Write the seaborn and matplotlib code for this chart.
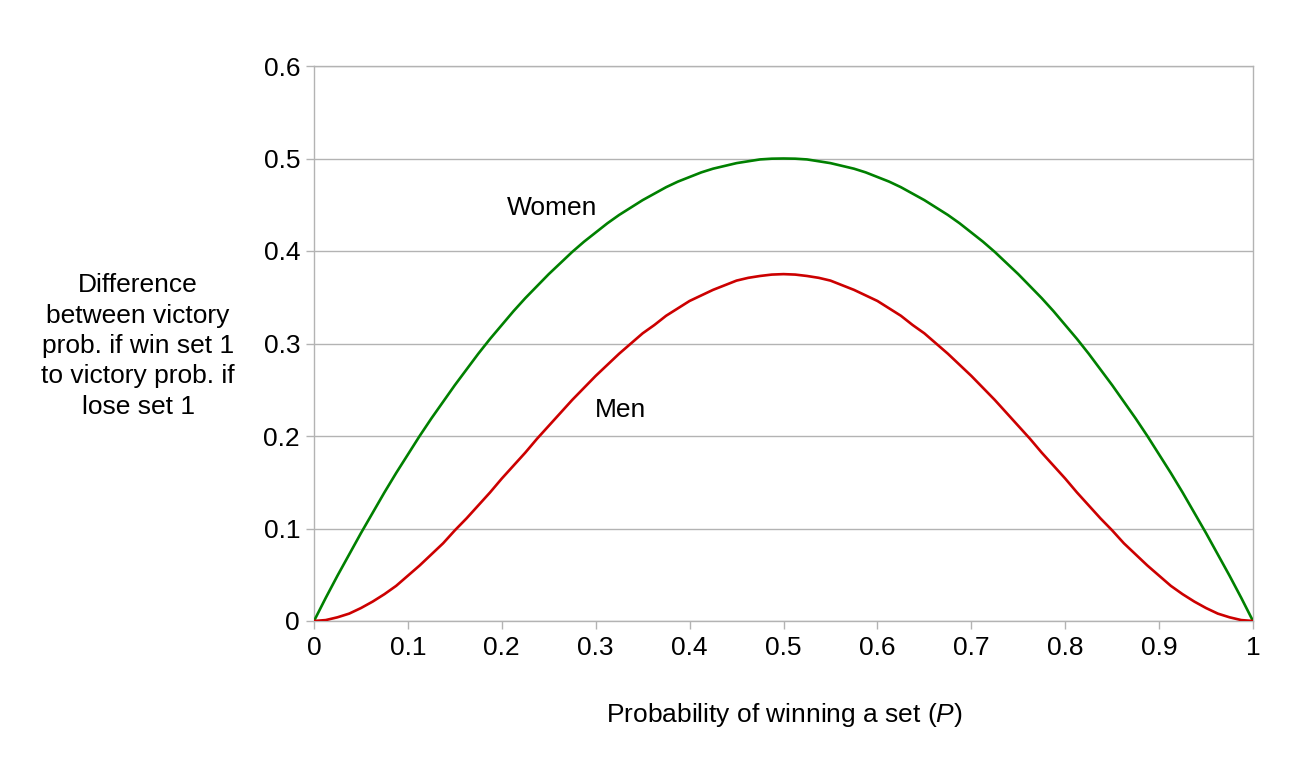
import numpy as np
import pandas as pd
import seaborn as sns
import matplotlib.pyplot as plt

# values, P in steps of 0.0125
p_values = [0, 0.0125, 0.025, 0.0375, 0.05, 0.0625, 0.075, 0.0875, 0.1, 0.1125,
            0.125, 0.1375, 0.15, 0.1625, 0.175, 0.1875, 0.2, 0.2125, 0.225, 0.2375,
            0.25, 0.2625, 0.275, 0.2875, 0.3, 0.3125, 0.325, 0.3375, 0.35, 0.3625,
            0.375, 0.3875, 0.4, 0.4125, 0.425, 0.4375, 0.45, 0.4625, 0.475, 0.4875,
            0.5,
            0.5125, 0.525, 0.5375, 0.55, 0.5625, 0.575, 0.5875, 0.6, 0.6125, 0.625,
            0.6375, 0.65, 0.6625, 0.675, 0.6875, 0.7, 0.7125, 0.725, 0.7375, 0.75,
            0.7625, 0.775, 0.7875, 0.8, 0.8125, 0.825, 0.8375, 0.85, 0.8625, 0.875,
            0.8875, 0.9, 0.9125, 0.925, 0.9375, 0.95, 0.9625, 0.975, 0.9875, 1]
women = [0, 0.025, 0.049, 0.072, 0.095, 0.117, 0.139, 0.160, 0.18, 0.200,
         0.219, 0.237, 0.255, 0.272, 0.289, 0.305, 0.32, 0.335, 0.349, 0.362,
         0.375, 0.387, 0.399, 0.410, 0.42, 0.430, 0.439, 0.447, 0.455, 0.462,
         0.469, 0.475, 0.48, 0.485, 0.489, 0.492, 0.495, 0.497, 0.499, 0.4998,
         0.5,
         0.4998, 0.499, 0.497, 0.495, 0.492, 0.489, 0.485, 0.48, 0.475, 0.469,
         0.462, 0.455, 0.447, 0.439, 0.430, 0.42, 0.410, 0.399, 0.387, 0.375,
         0.362, 0.349, 0.335, 0.32, 0.305, 0.289, 0.272, 0.255, 0.237, 0.219,
         0.200, 0.18, 0.160, 0.139, 0.117, 0.095, 0.072, 0.049, 0.025, 0]
men = [0, 0.001, 0.004, 0.008, 0.014, 0.021, 0.029, 0.038, 0.049, 0.060,
       0.072, 0.084, 0.098, 0.111, 0.125, 0.139, 0.154, 0.168, 0.182, 0.197,
       0.211, 0.225, 0.239, 0.252, 0.265, 0.277, 0.289, 0.300, 0.311, 0.320,
       0.330, 0.338, 0.346, 0.352, 0.358, 0.363, 0.368, 0.371, 0.373, 0.3745,
       0.375,
       0.3745, 0.373, 0.371, 0.368, 0.363, 0.358, 0.352, 0.346, 0.338, 0.330,
       0.320, 0.311, 0.300, 0.289, 0.277, 0.265, 0.252, 0.239, 0.225, 0.211,
       0.197, 0.182, 0.168, 0.154, 0.139, 0.125, 0.111, 0.098, 0.084, 0.072,
       0.060, 0.049, 0.038, 0.029, 0.021, 0.014, 0.008, 0.004, 0.001, 0]
x_ticks = [0, 0.1, 0.2, 0.3, 0.4, 0.5, 0.6, 0.7, 0.8, 0.9, 1]
x_tick_labels = ["0", "0.1", "0.2", "0.3", "0.4", "0.5", "0.6", "0.7", "0.8", "0.9", "1"]
y_ticks = [0, 0.1, 0.2, 0.3, 0.4, 0.5, 0.6]
y_tick_labels = ["0", "0.1", "0.2", "0.3", "0.4", "0.5", "0.6"]

df = pd.DataFrame({"P": p_values * 2,
                   "diff": women + men,
                   "group": ["Women"] * len(p_values) + ["Men"] * len(p_values)})

sns.set_style("white")
plt.rcParams["font.family"] = ["Liberation Sans", "DejaVu Sans"]
plt.rcParams["text.color"] = "black"
plt.rcParams["mathtext.fontset"] = "custom"
plt.rcParams["mathtext.rm"] = "Liberation Sans"
plt.rcParams["mathtext.it"] = "Liberation Sans:italic"

fig = plt.figure(figsize=(13.04, 7.75), dpi=100)
ax = fig.add_axes([314 / 1304, 1 - 621 / 775, 939 / 1304, 555 / 775])

sns.lineplot(data=df, x="P", y="diff", hue="group",
             palette={"Women": "#008000", "Men": "#cc0000"},
             linewidth=1.9, legend=False, ax=ax, zorder=3)
for ln in ax.lines:
    ln.set_solid_joinstyle("round")

ax.set_xlim(0, 1)
ax.set_ylim(0, 0.6)
ax.set_xticks(x_ticks)
ax.set_xticklabels(x_tick_labels)
ax.set_yticks(y_ticks)
ax.set_yticklabels(y_tick_labels)
ax.grid(axis="y", color="#b3b3b3", linewidth=1)
ax.grid(axis="x", visible=False)
for s in ax.spines.values():
    s.set_visible(True)
    s.set_color("#b3b3b3")
    s.set_linewidth(1)
ax.tick_params(axis="both", direction="out", length=6, width=1, color="#b3b3b3",
               labelsize=19, labelcolor="black", bottom=True, left=True)
ax.tick_params(axis="x", pad=5)
ax.tick_params(axis="y", pad=4)

ax.set_xlabel("")
ax.set_ylabel("")
ax.text(0.2535, 0.4465, "Women", fontsize=19, ha="center", va="center")
ax.text(0.326, 0.228, "Men", fontsize=19, ha="center", va="center")

fig.text(784 / 1304, 1 - 715 / 775, "Probability of winning a set ($\\it{P}$)",
         fontsize=19, ha="center", va="center")
fig.text(138 / 1304, 1 - 346 / 775,
         "Difference\nbetween victory\nprob. if win set 1\nto victory prob. if\nlose set 1",
         fontsize=19, ha="center", va="center", linespacing=1.33)

fig.savefig("out.png", dpi=100)
